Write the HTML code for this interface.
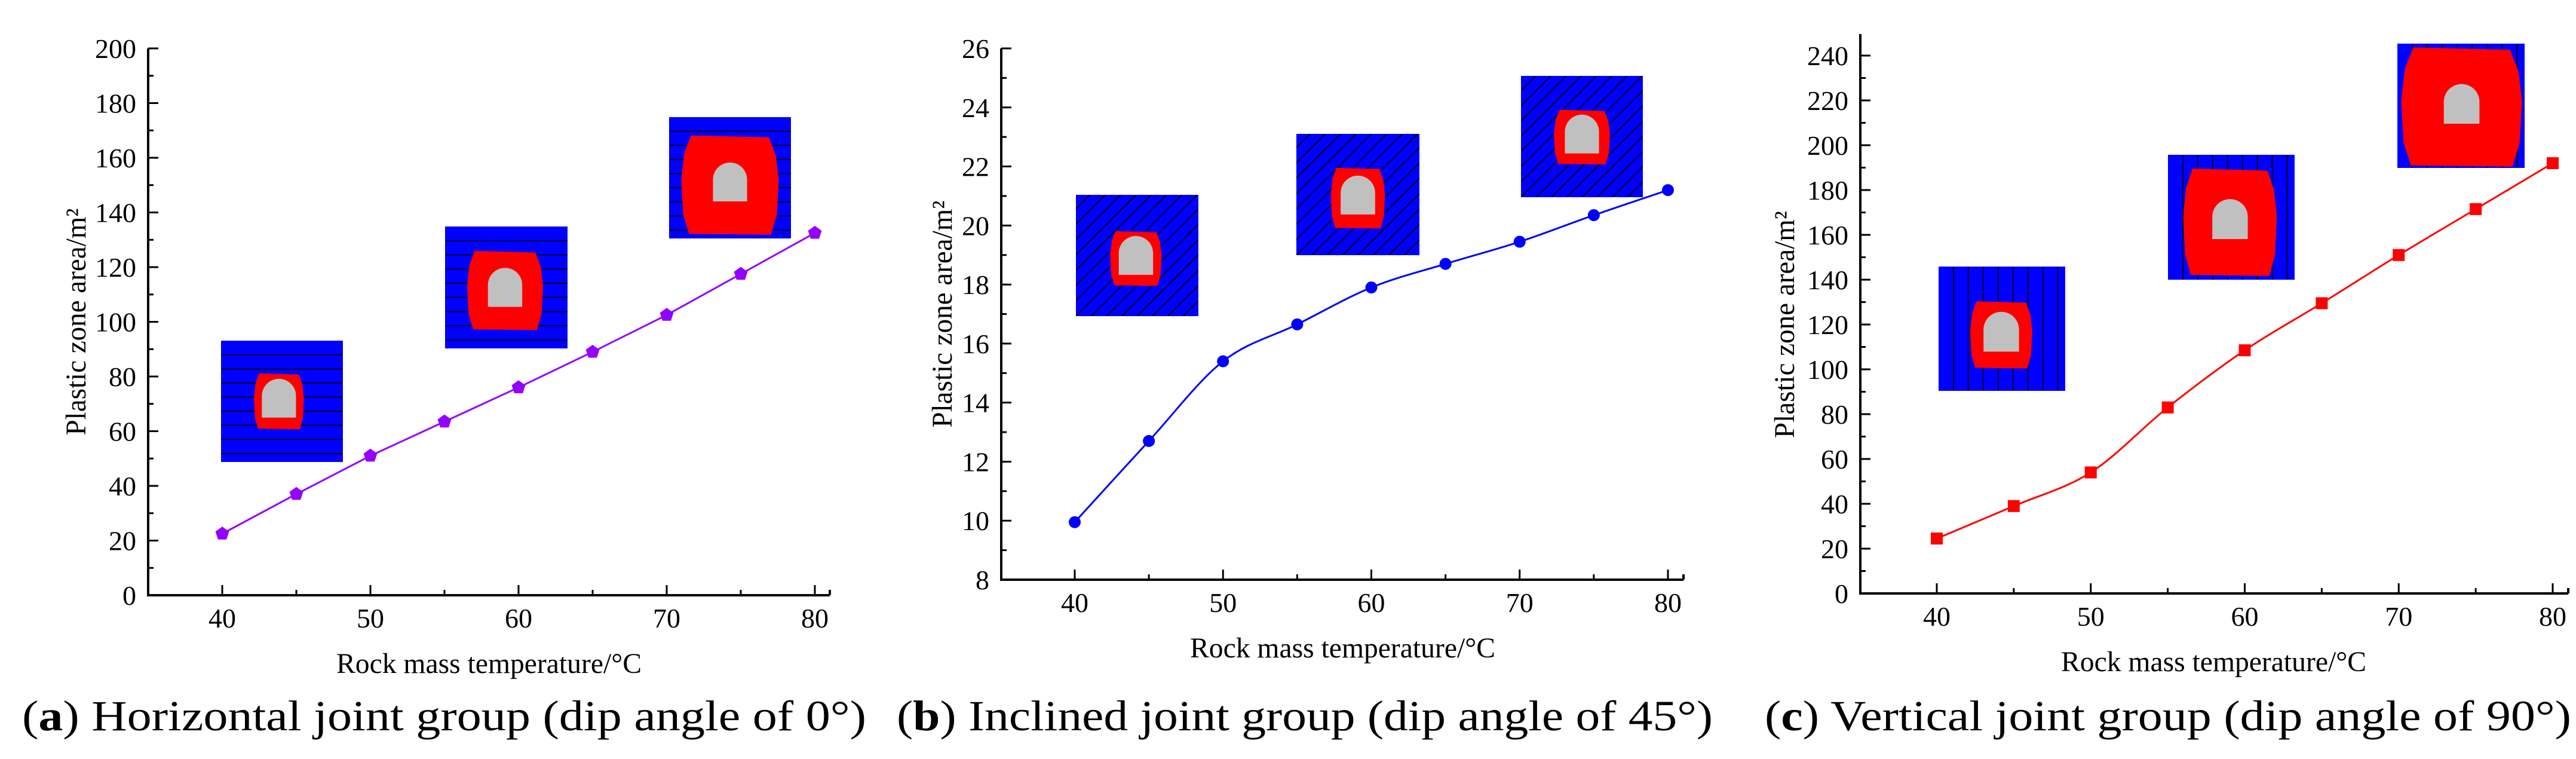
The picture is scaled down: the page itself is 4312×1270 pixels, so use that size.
<!DOCTYPE html>
<html><head><meta charset="utf-8"><style>
html,body{margin:0;padding:0;background:#fff;}
svg{display:block;}
text{font-family:"Liberation Serif","Times New Roman",Times,serif;}
</style></head><body>
<svg id="fig" width="4312" height="1270" viewBox="0 0 4312 1270" xmlns="http://www.w3.org/2000/svg"></svg>
<script>
const xCats = [40,45,50,55,60,65,70,75,80];
const xTickLabels = ["40","50","60","70","80"];
const seriesA = [22.5,37,51,63.5,76,89,102.5,117.5,132.5];
const seriesB = [9.95,12.7,15.4,16.65,17.9,18.7,19.45,20.35,21.2];
const seriesC = [24.5,39,54,83,108.5,129.5,151,171.5,192];
const yTicksA = [0,20,40,60,80,100,120,140,160,180,200];
const yTicksB = [8,10,12,14,16,18,20,22,24,26];
const yTicksC = [0,20,40,60,80,100,120,140,160,180,200,220,240];
const captionsText = ["Horizontal joint group (dip angle of 0°)","Inclined joint group (dip angle of 45°)","Vertical joint group (dip angle of 90°)"];

const NS="http://www.w3.org/2000/svg";
const FF="Liberation Serif, Times New Roman, serif";
const svg=document.getElementById('fig');
function mk(tag,attrs,parent){const e=document.createElementNS(NS,tag);for(const k in attrs)e.setAttribute(k,attrs[k]);(parent||svg).appendChild(e);return e;}

const panels=[
 {key:'a',data:seriesA,yt:yTicksA,ymin:0,ymax:200,minorStep:10,ax:248,x40:372,x80:1364,xend:1389,yTop:81,yBot:996,axTop:81,color:'#9400ff',marker:'pent',smooth:false,ytx:127,xtc:818,capX:37,capW:1413,
  insets:[[370,570,574,773,'h',[0.27,0.27,0.68,0.73]],[745,379,950,583,'h',[0.18,0.2,0.8,0.85]],[1120,196,1324,399,'h',[0.1,0.15,0.9,0.97]]]},
 {key:'b',data:seriesB,yt:yTicksB,ymin:8,ymax:26,minorStep:1,ax:1676,x40:1799,x80:2792,xend:2818,yTop:81,yBot:970,axTop:81,color:'#0000ff',marker:'circ',smooth:true,ytx:1577,xtc:2247,capX:1501,capW:1366,
  insets:[[1801,326,2006,529,'d',[0.28,0.3,0.7,0.75]],[2170,224,2376,427,'d',[0.28,0.28,0.72,0.78]],[2546,127,2750,330,'d',[0.27,0.28,0.73,0.73]]]},
 {key:'c',data:seriesC,yt:yTicksC,ymin:0,ymax:240,minorStep:10,ax:3114,x40:3242,x80:4273,xend:4299,yTop:93,yBot:993,axTop:57,color:'#ff0000',marker:'sq',smooth:true,ytx:2987,xtc:3705,capX:2954,capW:1350,
  insets:[[3245,446,3457,654,'v',[0.25,0.28,0.74,0.82]],[3629,259,3841,468,'v',[0.12,0.11,0.86,0.97]],[4013,73,4226,281,'v',[0.03,0.03,0.98,0.99]]]}
];

function catmull(pts){let d=`M${pts[0][0]},${pts[0][1]}`;for(let i=0;i<pts.length-1;i++){const p0=pts[Math.max(0,i-1)],p1=pts[i],p2=pts[i+1],p3=pts[Math.min(pts.length-1,i+2)];
 const c1=[p1[0]+(p2[0]-p0[0])/6,p1[1]+(p2[1]-p0[1])/6],c2=[p2[0]-(p3[0]-p1[0])/6,p2[1]-(p3[1]-p1[1])/6];d+=` C${c1[0]},${c1[1]} ${c2[0]},${c2[1]} ${p2[0]},${p2[1]}`;}return d;}

panels.forEach((p,pi)=>{
 const g=mk('g',{});
 
 
 const X=v=>p.x40+(v-40)/40*(p.x80-p.x40);
 const Y=v=>p.yBot-(v-p.ymin)/(p.ymax-p.ymin)*(p.yBot-p.yTop);
 p.insets.forEach((ins,ii)=>{
  const [x0,y0,x1,y1,pat,r]=ins;const w=x1-x0,h=y1-y0;
  const ig=mk('g',{},g);
  
  
  mk('rect',{x:x0,y:y0,width:w,height:h,fill:'#0000ff'},ig);
  const cp='cp'+p.key+ii;const cl=mk('clipPath',{id:cp},ig);mk('rect',{x:x0,y:y0,width:w,height:h},cl);
  const lg=mk('g',{'clip-path':`url(#${cp})`,stroke:'#000022','stroke-width':2},ig);
  if(pat==='h'){for(let k=1;k<9;k++)mk('line',{x1:x0,x2:x1,y1:y0+k*h/8.6,y2:y0+k*h/8.6},lg);}
  else if(pat==='v'){for(let k=1;k<9;k++)mk('line',{y1:y0,y2:y1,x1:x0+k*w/8.5,x2:x0+k*w/8.5},lg);}
  else{for(let k=-8;k<10;k++){const s=x0+k*w/8;mk('line',{x1:s,y1:y1,x2:s+h,y2:y0},lg);}}
  const rx0=x0+r[0]*w,ry0=y0+r[1]*h,rx1=x0+r[2]*w,ry1=y0+r[3]*h;
  const rw=rx1-rx0,rh=ry1-ry0;
  let d=`M${rx0+rw*0.1},${ry0} L${rx0+rw*0.9},${ry0+rh*0.02} L${rx1-rw*0.03},${ry0+rh*0.2} L${rx1},${ry0+rh*0.45} L${rx1-rw*0.02},${ry0+rh*0.8} L${rx1-rw*0.08},${ry1} L${rx0+rw*0.08},${ry1-rh*0.01} L${rx0+rw*0.02},${ry0+rh*0.8} L${rx0},${ry0+rh*0.45} L${rx0+rw*0.03},${ry0+rh*0.18} Z`;
  mk('path',{d:d,fill:'#ff0000'},ig);
  const tw=w*0.28,th=h*0.32,tcx=(rx0+rx1)/2,tb=(ry0+ry1)/2+th*0.42,tt=tb-th;
  mk('path',{d:`M${tcx-tw/2},${tb} L${tcx-tw/2},${tt+tw/2} A${tw/2},${tw/2} 0 0 1 ${tcx+tw/2},${tt+tw/2} L${tcx+tw/2},${tb} Z`,fill:'#c0c0c0'},ig);
 });
 const axg=mk('g',{stroke:'#000','stroke-width':4,fill:'none'},g);
 
 
 mk('path',{d:`M${p.ax},${p.axTop} L${p.ax},${p.yBot} L${p.xend},${p.yBot}`},axg);
 mk('line',{x1:p.xend,y1:p.yBot,x2:p.xend,y2:p.yBot-9},axg);
 for(let v=p.ymin;v<=p.ymax+1e-9;v+=p.minorStep){const major=p.yt.some(t=>Math.abs(t-v)<1e-9);mk('line',{x1:p.ax,x2:p.ax+(major?17:9),y1:Y(v),y2:Y(v),'stroke-width':3},axg);}
 xCats.forEach(v=>{const major=v%10===0;mk('line',{x1:X(v),x2:X(v),y1:p.yBot,y2:p.yBot-(major?17:9),'stroke-width':3},axg);});
 p.yt.forEach(t=>{const e=mk('text',{x:p.ax-20,y:Y(t)+16,'font-size':46,'font-family':FF,'text-anchor':'end',fill:'#000'},g);e.textContent=t;
  
  });
 xTickLabels.forEach(t=>{const e=mk('text',{x:X(+t),y:p.yBot+54,'font-size':46,'font-family':FF,'text-anchor':'middle',fill:'#000'},g);e.textContent=t;
  
  });
 const xt=mk('text',{x:p.xtc-255,y:p.yBot+130,'font-size':48,'font-family':FF,fill:'#000',textLength:511,lengthAdjust:'spacingAndGlyphs'},g);xt.textContent='Rock mass temperature/°C';
 
 
 const ycy=(p.yTop+p.yBot)/2;
 const yt=mk('text',{x:-190,y:0,'font-size':48,'font-family':FF,fill:'#000',textLength:380,lengthAdjust:'spacingAndGlyphs',transform:`translate(${p.ytx+16},${ycy}) rotate(-90)`},g);yt.textContent='Plastic zone area/m²';
 
 
 const pts=p.data.map((v,i)=>[X(xCats[i]),Y(v)]);
 const ln=mk('path',{d:p.smooth?catmull(pts):('M'+pts.map(q=>q.join(',')).join(' L')),fill:'none',stroke:p.color,'stroke-width':3},g);
 
 
 pts.forEach(q=>{let m;
  if(p.marker==='circ')m=mk('circle',{cx:q[0],cy:q[1],r:10,fill:p.color},g);
  else if(p.marker==='sq')m=mk('rect',{x:q[0]-10,y:q[1]-10,width:20,height:20,fill:p.color},g);
  else{let s='';for(let k=0;k<5;k++){const a=-Math.PI/2+k*2*Math.PI/5;s+=(q[0]+12*Math.cos(a))+','+(q[1]+12*Math.sin(a))+' ';}m=mk('polygon',{points:s,fill:p.color},g);}
  
  
 });
 const cap=mk('text',{x:p.capX,y:1222,'font-size':72,'font-family':FF,fill:'#000',textLength:p.capW,lengthAdjust:'spacingAndGlyphs'},g);
 
 
 const t1=mk('tspan',{},cap);t1.textContent='(';
 const t2=mk('tspan',{'font-weight':'bold'},cap);t2.textContent=p.key;
 const t3=mk('tspan',{},cap);t3.textContent=') '+captionsText[pi];
});
</script>
</body></html>
